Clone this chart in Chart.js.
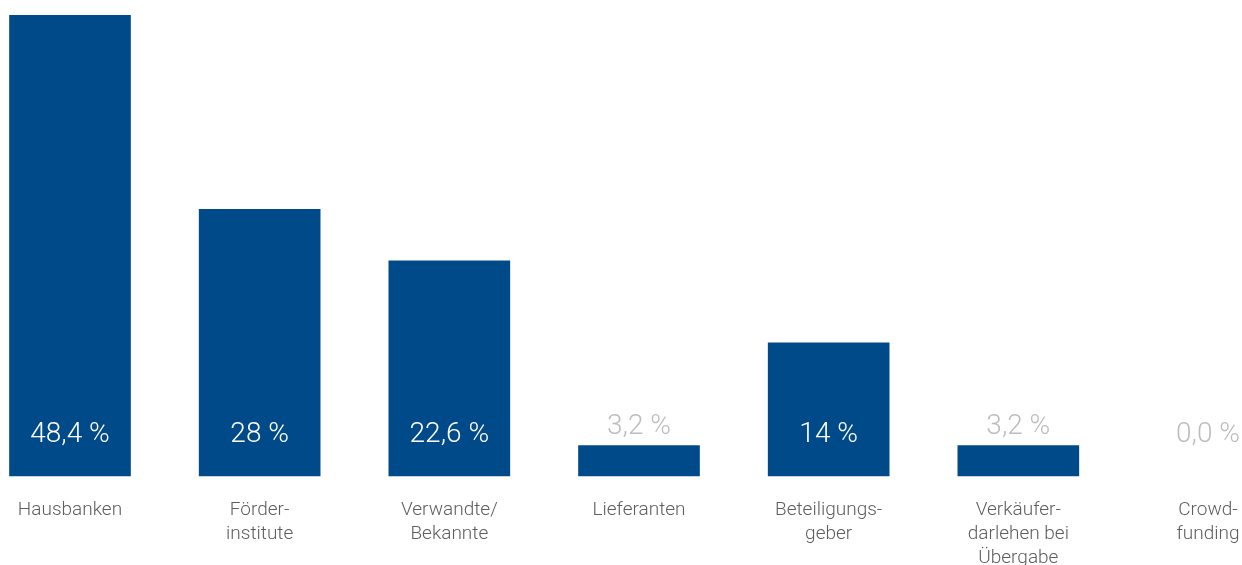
<!DOCTYPE html>
<html>
<head>
<meta charset="utf-8">
<script src="https://cdn.jsdelivr.net/npm/chart.js@4.4.0/dist/chart.umd.min.js"></script>
<style>
  html, body { margin: 0; padding: 0; background: #fff; }
  #wrap { width: 1242px; height: 565px; }
</style>
</head>
<body>
<div id="wrap"><canvas id="chart"></canvas></div>
<script>
const categories = [
	'Hausbanken',
	['Förder-', 'institute'],
	['Verwandte/', 'Bekannte'],
	'Lieferanten',
	['Beteiligungs-', 'geber'],
	['Verkäufer-', 'darlehen bei', 'Übergabe'],
	['Crowd-', 'funding']
];
const values = [48.4, 28, 22.6, 3.2, 14, 3.2, 0];
const valueLabels = ['48,4 %', '28 %', '22,6 %', '3,2 %', '14 %', '3,2 %', '0,0 %'];

const barColor = '#004a8a';
const fontFamily = 'Roboto, "Open Sans", sans-serif';

// value labels: white inside tall bars, grey above short ones
const valueLabelPlugin = {
	id: 'valueLabels',
	afterDatasetsDraw(chart) {
		const ctx = chart.ctx;
		const meta = chart.getDatasetMeta(0);
		ctx.save();
		ctx.font = '300 28px ' + fontFamily;
		ctx.textAlign = 'center';
		ctx.textBaseline = 'middle';
		meta.data.forEach((bar, i) => {
			const h = bar.base - bar.y;
			let y;
			if (h > 60) {
				ctx.fillStyle = '#ffffff';
				y = bar.base - 41;
			} else {
				ctx.fillStyle = '#bdbdbd';
				y = Math.min(bar.y - 19, bar.base - 41);
			}
			ctx.fillText(valueLabels[i], bar.x, y);
		});
		ctx.restore();
	}
};

const ctx = document.querySelector('#chart');
const chart = new Chart(ctx, {
	type: 'bar',
	data: {
		labels: categories,
		datasets: [{
			data: values,
			backgroundColor: (c) => c.raw === 0 ? 'rgba(0,0,0,0)' : barColor,
			barThickness: 121,
			clip: false
		}]
	},
	options: {
		responsive: true,
		maintainAspectRatio: false,
		animation: false,
		layout: { padding: { left: 70, right: 34, top: 0, bottom: 0 } },
		plugins: {
			legend: { display: false },
			tooltip: { enabled: false }
		},
		scales: {
			x: {
				offset: false,
				grid: { display: false, drawTicks: false },
				border: { display: false },
				ticks: {
					padding: 22,
					maxRotation: 0,
					autoSkip: false,
					color: '#5e5e5e',
					font: { family: fontFamily, size: 19, weight: '300', lineHeight: 1.26 }
				},
				afterFit: (scale) => {
					scale.paddingLeft = 0;
					scale.paddingRight = 0;
					scale.height = 89;
				}
			},
			y: {
				display: false,
				min: 0,
				max: 50
			}
		}
	},
	plugins: [valueLabelPlugin]
});
</script>
</body>
</html>
